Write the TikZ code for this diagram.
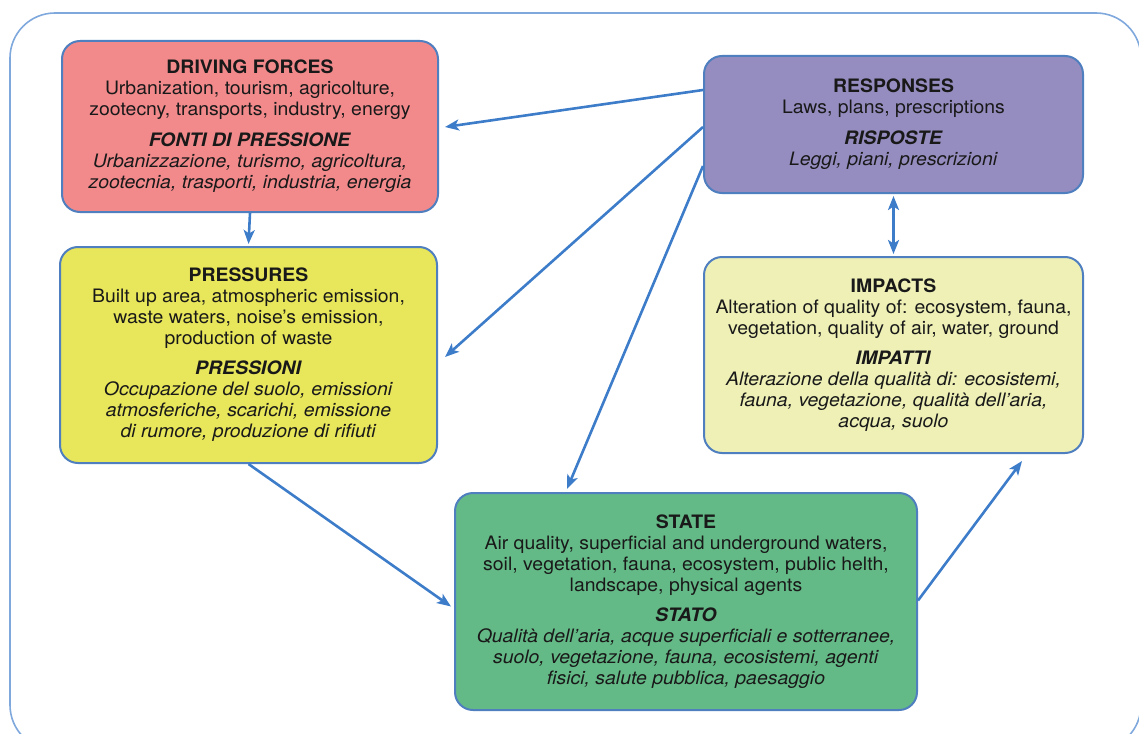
\documentclass[tikz,border=0pt]{standalone}
\usepackage{fontspec}
\setmainfont{TeX Gyre Heros}[FakeStretch=1.05]
\usetikzlibrary{arrows.meta,calc}
\definecolor{framec}{HTML}{7FA8DD}
\definecolor{edgec}{HTML}{4F7FBF}
\definecolor{arrc}{HTML}{3D7CC9}
\definecolor{dfc}{HTML}{F28A8C}
\definecolor{respc}{HTML}{958DC0}
\definecolor{impc}{HTML}{EEF0B6}
\definecolor{presc}{HTML}{E8E65A}
\definecolor{statec}{HTML}{64BA87}
\begin{document}
\begin{tikzpicture}[x=1pt,y=-1pt,
  box/.style={draw=edgec, line width=2pt, rounded corners=18pt, align=center,
    font=\fontsize{18.5}{21}\selectfont, text=black!90, inner sep=0pt},
  arr/.style={draw=arrc, line width=2.6pt, -{Stealth[length=14pt,width=11pt,inset=3.5pt]}},
  arrb/.style={draw=arrc, line width=2.6pt, {Stealth[length=14pt,width=11pt,inset=3.5pt]}-{Stealth[length=14pt,width=11pt,inset=3.5pt]}}
]
\useasboundingbox (0,0) rectangle (1139,733);
\draw[framec, line width=1.6pt, rounded corners=45pt] (10,13) rectangle (1141,750);

\node[box, fill=dfc, minimum width=376pt, minimum height=171pt] (df) at (250,126.5)
 {\textbf{DRIVING FORCES}\\Urbanization, tourism, agricolture,\\zootecny, transports, industry, energy\\[10pt]
  \textbf{\textit{FONTI DI PRESSIONE}}\\\textit{Urbanizzazione, turismo, agricoltura,}\\\textit{zootecnia, trasporti, industria, energia}};

\node[box, fill=respc, minimum width=379pt, minimum height=137pt] (resp) at (893.5,124.5)
 {\textbf{RESPONSES}\\Laws, plans, prescriptions\\[10pt]
  \textbf{\textit{RISPOSTE}}\\\textit{Leggi, piani, prescrizioni}};

\node[box, fill=presc, minimum width=377pt, minimum height=216pt] (pres) at (248.5,355)
 {\textbf{PRESSURES}\\Built up area, atmospheric emission,\\waste waters, noise’s emission,\\production of waste\\[9pt]
  \textbf{\textit{PRESSIONI}}\\\textit{Occupazione del suolo, emissioni}\\\textit{atmosferiche, scarichi, emissione}\\\textit{di rumore, produzione di rifiuti}};

\node[box, fill=impc, minimum width=379pt, minimum height=196pt] (imp) at (893.5,355)
 {\textbf{IMPACTS}\\Alteration of quality of: ecosystem, fauna,\\vegetation, quality of air, water, ground\\[9pt]
  \textbf{\textit{IMPATTI}}\\\textit{Alterazione della qualità di: ecosistemi,}\\\textit{fauna, vegetazione, qualità dell’aria,}\\\textit{acqua, suolo}};

\node[box, fill=statec, minimum width=462pt, minimum height=217pt] (state) at (686,601.5)
 {\textbf{STATE}\\Air quality, superficial and underground waters,\\soil, vegetation, fauna, ecosystem, public helth,\\landscape, physical agents\\[9pt]
  \textbf{\textit{STATO}}\\\textit{Qualità dell’aria, acque superficiali e sotterranee,}\\\textit{suolo, vegetazione, fauna, ecosistemi, agenti}\\\textit{fisici, salute pubblica, paesaggio}};

\draw[arr] ($(resp.north west)+(0,35)$) -- ($(df.east)+(6,0.5)$);
\draw[arr] ($(resp.north west)+(0,72)$) -- ($(pres.east)+(7,2)$);
\draw[arr] ($(resp.north west)+(0,111)$) -- ($(state.north west)+(113,-3)$);
\draw[arr] (df.south) -- ($(pres.north)+(0,-2)$);
\draw[arrb] ($(resp.south)+(0,2)$) -- ($(imp.north)+(0,-2)$);
\draw[arr] ($(pres.south)+(0,0)$) -- ($(state.west)+(-3,5)$);
\draw[arr] ($(state.east)+(0,-1)$) -- ($(imp.south west)+(319,7)$);
\end{tikzpicture}
\end{document}
